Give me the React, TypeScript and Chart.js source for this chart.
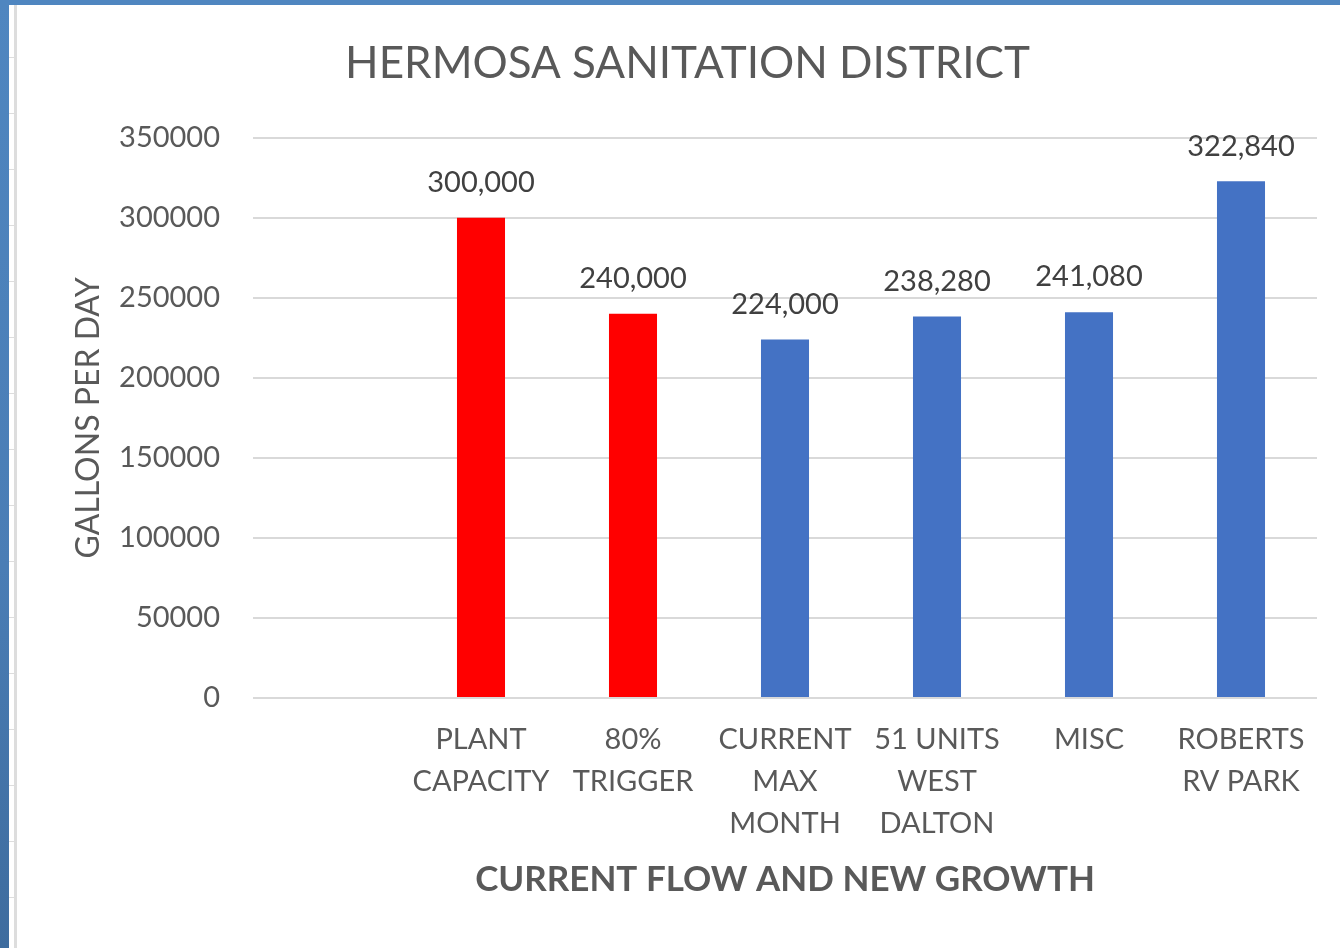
import React, { useEffect, useRef } from "react";
import { Chart, registerables } from "chart.js";

Chart.register(...registerables);

const chartTitle = "HERMOSA SANITATION DISTRICT";
const xAxisTitle = "CURRENT FLOW AND NEW GROWTH";
const yAxisTitle = "GALLONS PER DAY";

const categories: (string | string[])[] = [
  "",
  ["PLANT", "CAPACITY"],
  ["80%", "TRIGGER"],
  ["CURRENT", "MAX", "MONTH"],
  ["51 UNITS", "WEST", "DALTON"],
  "MISC",
  ["ROBERTS", "RV PARK"],
];

const values: (number | null)[] = [null, 300000, 240000, 224000, 238280, 241080, 322840];

const barColors = ["#FF0000", "#FF0000", "#FF0000", "#4472C4", "#4472C4", "#4472C4", "#4472C4"];

const yMin = 0;
const yMax = 350000;
const yStep = 50000;

const FONT = "Lato, 'Open Sans', sans-serif";

const valueLabels = {
  id: "valueLabels",
  afterDatasetsDraw(chart: any) {
    const ctx = chart.ctx;
    const meta = chart.getDatasetMeta(0);
    meta.data.forEach((bar: any, i: number) => {
      const v = values[i];
      if (v == null) return;
      ctx.save();
      ctx.font = `29px ${FONT}`;
      ctx.fillStyle = "#404040";
      ctx.textAlign = "center";
      ctx.textBaseline = "middle";
      ctx.fillText(v.toLocaleString("en-US"), bar.x, bar.y - 35);
      ctx.restore();
    });
  },
};

function BarChart() {
  const ref = useRef<HTMLCanvasElement | null>(null);
  useEffect(() => {
    if (!ref.current) return;
    const chart = new Chart(ref.current, {
      type: "bar",
      data: {
        labels: categories,
        datasets: [
          {
            data: values,
            backgroundColor: barColors,
            borderWidth: 0,
            categoryPercentage: 1,
            barPercentage: 0.316,
          },
        ],
      },
      options: {
        responsive: false,
        animation: false,
        layout: { padding: { left: 41, right: 23, top: 0, bottom: 0 } },
        plugins: {
          legend: { display: false },
          tooltip: { enabled: false },
          title: {
            display: true,
            text: chartTitle,
            color: "#595959",
            font: { family: FONT, size: 44, weight: "normal", lineHeight: 1.2 },
            padding: { top: 32, bottom: 48 },
          },
        },
        scales: {
          x: {
            grid: { display: false, drawTicks: false },
            border: { display: false },
            ticks: {
              color: "#595959",
              font: { family: FONT, size: 29, lineHeight: 1.45 },
              padding: 21,
              maxRotation: 0,
              autoSkip: false,
            },
            title: {
              display: true,
              text: xAxisTitle,
              color: "#595959",
              font: { family: FONT, size: 35, weight: "bold", lineHeight: 1.2 },
              padding: { top: 0, bottom: 47 },
            },
            afterFit(scale: any) {
              scale.height = 250;
            },
          },
          y: {
            min: yMin,
            max: yMax,
            grid: { color: "#D9D9D9", lineWidth: 2, drawTicks: false },
            border: { display: false },
            ticks: {
              stepSize: yStep,
              color: "#595959",
              font: { family: FONT, size: 29 },
              padding: 33,
              callback: (v: any) => String(v),
            },
            title: {
              display: true,
              text: yAxisTitle,
              color: "#595959",
              font: { family: FONT, size: 32, weight: "normal", lineHeight: 1.2 },
              padding: { top: 11, bottom: 0 },
            },
            afterFit(scale: any) {
              scale.width = 195;
            },
          },
        },
      },
      plugins: [valueLabels],
    });
    return () => chart.destroy();
  }, []);
  return <canvas ref={ref} width={1323} height={943} style={{ position: "absolute", left: 17, top: 5, width: 1323, height: 943 }} />;
}

const sheetTicks = [57, 113, 169, 225, 281, 337, 393, 449, 505, 561, 617, 673, 729, 785, 841, 897];

export default function App() {
  return (
    <div style={{ position: "fixed", left: 0, top: 0, width: 1340, height: 948, background: "#FFFFFF", overflow: "hidden" }}>
      <div style={{ position: "absolute", left: 0, top: 0, width: 9, height: 948, background: "linear-gradient(180deg, #4F86C0 0%, #4A7DB5 60%, #3E6C9E 100%)" }} />
      <div style={{ position: "absolute", left: 0, top: 0, width: 1340, height: 5, background: "#4F86C0" }} />
      <div style={{ position: "absolute", left: 14, top: 5, width: 3, height: 943, background: "#DDDDDD" }} />
      {sheetTicks.map((t) => (
        <div key={t} style={{ position: "absolute", left: 9, top: t, width: 5, height: 1, background: "#DDDDDD" }} />
      ))}
      <BarChart />
    </div>
  );
}
